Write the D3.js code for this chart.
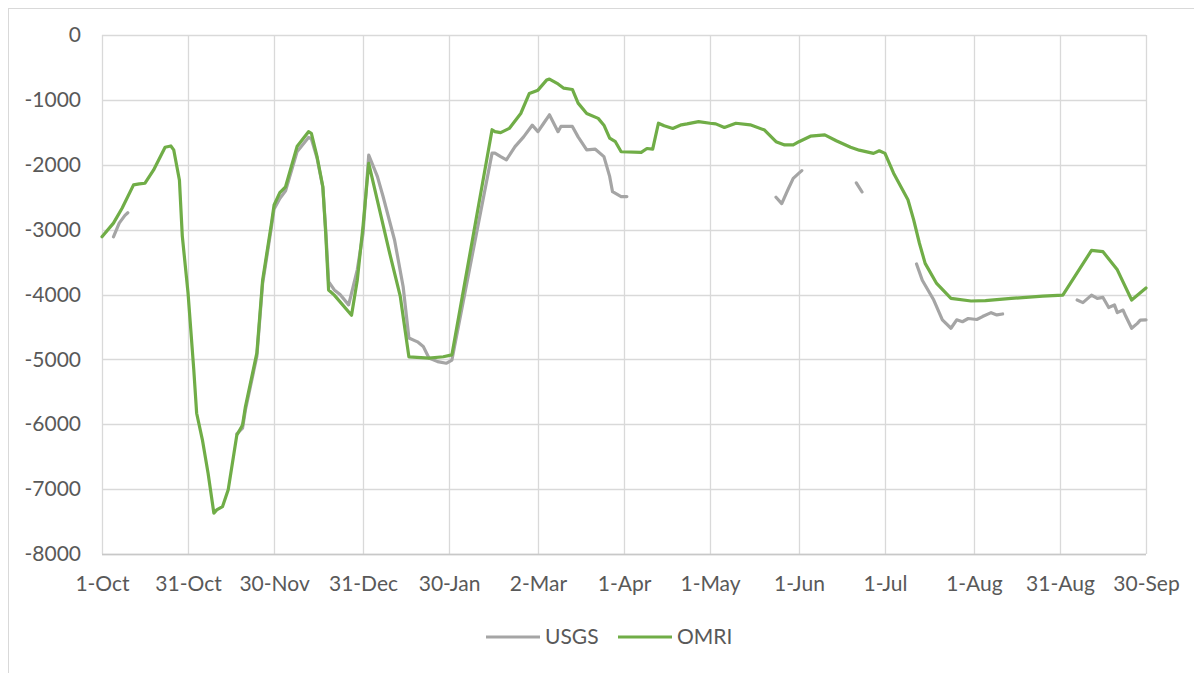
<!DOCTYPE html>
<html lang="en">
<meta charset="utf-8">

<style>
body { margin: 0; background: #fff; }
.grid line { stroke: #d9d9d9; stroke-width: 1.3px; }
.axis text { font-family: Lato, sans-serif; font-size: 21px; fill: #595959; }
.legend text { font-family: Lato, sans-serif; font-size: 21px; fill: #595959; }
.series { fill: none; stroke-width: 3.2px; stroke-linejoin: round; stroke-linecap: round; }
</style>

<div id="chart"></div>
<script src="https://d3js.org/d3.v7.min.js"></script>

<script>
"use strict";

// days counted from 1-Oct (water year)
const startDate = new Date(2018, 9, 1);
const endDate = new Date(2019, 8, 30);

const tickLabels = ["1-Oct", "31-Oct", "30-Nov", "31-Dec", "30-Jan", "2-Mar",
                    "1-Apr", "1-May", "1-Jun", "1-Jul", "1-Aug", "31-Aug", "30-Sep"];
const tickDays = [0, 30, 60, 91, 121, 152, 182, 212, 243, 273, 304, 334, 364];

const yTicks = [0, -1000, -2000, -3000, -4000, -5000, -6000, -7000, -8000];

const omriDays = [0, 4, 7, 11, 13, 15, 18, 22, 24, 25, 27, 28, 30, 32, 33, 35, 37, 39, 40, 42,
  44, 46, 47, 49, 50, 54, 56, 59, 60, 62, 64, 68, 72, 73, 75, 77, 78, 79, 81, 87,
  89, 91, 93, 100, 104, 107, 114, 119, 122, 136, 137, 139, 142, 146, 149, 152, 155, 156, 159, 161,
  164, 166, 169, 173, 175, 177, 179, 181, 188, 190, 192, 194, 196, 199, 202, 204, 208, 212, 214, 217,
  221, 226, 231, 235, 238, 241, 243, 247, 252, 256, 261, 264, 269, 271, 273, 276, 281, 283, 285, 287,
  291, 296, 303, 308, 317, 328, 335, 345, 349, 354, 359, 364];
const omriValues = [-3110, -2900, -2670, -2310, -2295, -2285, -2080, -1730, -1710, -1770, -2240, -3100, -3980, -5160, -5830, -6240, -6760, -7370, -7320, -7270,
  -7010, -6450, -6170, -6010, -5730, -4900, -3780, -2930, -2620, -2430, -2340, -1720, -1490, -1515, -1880, -2340, -3060, -3930, -4010, -4320,
  -3780, -2950, -1980, -3310, -4030, -4960, -4980, -4960, -4930, -1460, -1490, -1505, -1440, -1210, -900, -850, -695, -680, -755, -820,
  -840, -1050, -1210, -1285, -1390, -1590, -1645, -1800, -1810, -1750, -1760, -1360, -1400, -1440, -1385, -1370, -1335, -1360, -1370, -1425,
  -1360, -1385, -1465, -1645, -1695, -1695, -1645, -1560, -1540, -1630, -1730, -1775, -1825, -1785, -1825, -2130, -2540, -2850, -3210, -3520,
  -3830, -4060, -4100, -4095, -4060, -4025, -4010, -3320, -3340, -3620, -4085, -3900];

// USGS record has gaps (null)
const usgsDays = [4, 6, 8, 9, 10,
  47, 49, 50, 54, 56, 59, 60, 62, 64, 68, 72, 73, 75, 77, 78, 79, 81, 83, 86, 89,
  91, 93, 96, 98, 102, 105, 107, 110, 112, 114, 117, 120, 122, 136, 137, 139, 141, 144, 147, 150,
  152, 154, 156, 159, 160, 164, 166, 169, 172, 175, 177, 178, 181, 183, 184,
  235, 237, 239, 241, 243, 244, 245,
  263, 265, 266,
  284, 286, 290, 293, 296, 298, 300, 302, 305, 307, 310, 312, 314, 315,
  340, 342, 345, 347, 349, 351, 353, 354, 356, 357, 359, 361, 362, 364];
const usgsValues = [-3110, -2900, -2780, -2740, null,
  -6150, -6060, -5780, -4950, -3830, -2980, -2680, -2520, -2400, -1800, -1580, -1600, -1900, -2350, -3000, -3800, -3930, -4000, -4160, -3620,
  -3060, -1850, -2180, -2490, -3160, -3880, -4670, -4730, -4800, -4980, -5035, -5060, -5010, -1820, -1820, -1875, -1925, -1720, -1570, -1390,
  -1490, -1360, -1230, -1490, -1410, -1410, -1570, -1770, -1760, -1875, -2180, -2415, -2490, -2490, null,
  -2500, -2600, -2400, -2210, -2130, -2090, null,
  -2280, -2420, null,
  -3530, -3780, -4085, -4390, -4520, -4390, -4420, -4370, -4385, -4340, -4280, -4315, -4300, null,
  -4085, -4125, -4010, -4060, -4045, -4200, -4160, -4280, -4240, -4340, -4520, -4445, -4395, -4390];

const W = 1194, H = 673;
const plot = {left: 102, right: 1146, top: 35, bottom: 554};

const toDate = d => d3.timeDay.offset(startDate, d);

const svg = d3.select("#chart").append("svg")
    .attr("width", W)
    .attr("height", H);

// chart border
svg.append("rect")
    .attr("x", 8.5).attr("y", 8.5)
    .attr("width", W).attr("height", H)
    .attr("fill", "#fff")
    .attr("stroke", "#d9d9d9");

const x = d3.scaleTime()
    .domain([startDate, endDate])
    .range([plot.left, plot.right]);

const y = d3.scaleLinear()
    .domain([-8000, 0])
    .range([plot.bottom, plot.top]);

// gridlines
const grid = svg.append("g").attr("class", "grid");
grid.selectAll(".h").data(yTicks).join("line")
    .attr("x1", plot.left).attr("x2", plot.right)
    .attr("y1", d => Math.round(y(d)) + 0.5).attr("y2", d => Math.round(y(d)) + 0.5);
grid.selectAll(".v").data(tickDays).join("line")
    .attr("x1", d => Math.round(x(toDate(d))) + 0.5).attr("x2", d => Math.round(x(toDate(d))) + 0.5)
    .attr("y1", plot.top).attr("y2", plot.bottom);

// axes (labels only, Excel style)
const yAxis = svg.append("g").attr("class", "axis")
    .attr("transform", "translate(" + plot.left + ",0)")
    .call(d3.axisLeft(y).tickValues(yTicks).tickFormat(d => String(d)).tickSize(0).tickPadding(21));
yAxis.select(".domain").remove();

const xAxis = svg.append("g").attr("class", "axis")
    .attr("transform", "translate(0," + plot.bottom + ")")
    .call(d3.axisBottom(x).tickValues(tickDays.map(toDate))
      .tickFormat((d, i) => tickLabels[i]).tickSize(0).tickPadding(22));
xAxis.select(".domain").remove();

svg.append("line")
    .attr("x1", plot.left).attr("x2", plot.right)
    .attr("y1", plot.bottom + 0.5).attr("y2", plot.bottom + 0.5)
    .attr("stroke", "#c8c8c8").attr("stroke-width", 1.3);

// series
const line = d3.line()
    .defined(d => d[1] !== null)
    .x(d => x(toDate(d[0])))
    .y(d => y(d[1]));

const usgs = usgsDays.map((d, i) => [d, usgsValues[i]]);
const omri = omriDays.map((d, i) => [d, omriValues[i]]);

svg.append("path").datum(usgs)
    .attr("class", "series")
    .attr("stroke", "#a5a5a5")
    .attr("d", line);

svg.append("path").datum(omri)
    .attr("class", "series")
    .attr("stroke", "#70ad47")
    .attr("d", line);

// legend
const legendItems = [
  {name: "USGS", color: "#a5a5a5", x0: 486},
  {name: "OMRI", color: "#70ad47", x0: 618}
];
const legend = svg.append("g").attr("class", "legend");
legendItems.forEach(function(it) {
  legend.append("line")
    .attr("x1", it.x0).attr("x2", it.x0 + 54)
    .attr("y1", 637).attr("y2", 637)
    .attr("stroke", it.color).attr("stroke-width", 3.2);
  legend.append("text")
    .attr("x", it.x0 + 59).attr("y", 644)
    .text(it.name);
});
</script>
</html>
